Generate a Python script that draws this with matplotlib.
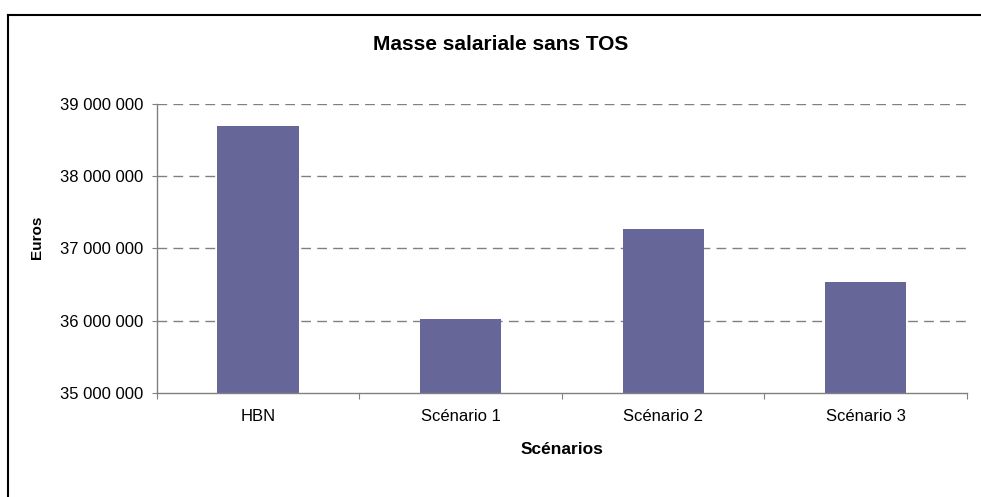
import matplotlib
matplotlib.use("Agg")
import matplotlib.pyplot as plt
from matplotlib.lines import Line2D
from matplotlib.ticker import FuncFormatter, FixedLocator
import numpy as np

plt.rcParams['font.family'] = ['Liberation Sans', 'DejaVu Sans']

# Masse salariale par scénario (euros)
scenarios = ['HBN', 'Scénario 1', 'Scénario 2', 'Scénario 3']
masse = [38690000, 36020000, 37270000, 36540000]
y_ticks = [35000000, 36000000, 37000000, 38000000, 39000000]

W, H = 981, 497
fig = plt.figure(figsize=(W / 100, H / 100), dpi=100, facecolor='white')

# cadre du graphique (coupé à droite et en bas)
fig.add_artist(Line2D([8 / W, 8 / W], [0, 1 - 15 / H], color='black', lw=1.5,
                      transform=fig.transFigure))
fig.add_artist(Line2D([8 / W, 1], [1 - 15 / H, 1 - 15 / H], color='black', lw=1.5,
                      transform=fig.transFigure))

left, right = 156.7, 967.0
top, bottom = 104.0, 392.7
ax = fig.add_axes([left / W, 1 - bottom / H, (right - left) / W, (bottom - top) / H])

x = np.arange(len(scenarios))
ax.bar(x, masse, width=0.4, color='#666699', zorder=3)

ax.set_xlim(-0.5, len(scenarios) - 0.5)
ax.set_ylim(y_ticks[0], y_ticks[-1])

# grille pointillée
for v in y_ticks[1:]:
    ax.axhline(v, color='#808080', lw=1.0, dashes=(7, 4.5), zorder=1)

ax.set_yticks(y_ticks)
ax.yaxis.set_major_formatter(FuncFormatter(lambda v, p: '{:,.0f}'.format(v).replace(',', ' ')))
ax.tick_params(axis='y', direction='out', length=3.5, width=0.8, color='#808080',
               pad=6, labelsize=12)

ax.xaxis.set_major_locator(FixedLocator(np.arange(-0.5, len(scenarios), 1.0)))
ax.xaxis.set_minor_locator(FixedLocator(x))
ax.set_xticklabels([], minor=False)
ax.set_xticklabels(scenarios, minor=True)
ax.tick_params(axis='x', which='major', direction='out', length=4, width=0.8, color='#808080')
ax.tick_params(axis='x', which='minor', length=0, pad=12, labelsize=12)

for s in ['top', 'right']:
    ax.spines[s].set_visible(False)
for s in ['left', 'bottom']:
    ax.spines[s].set_color('#808080')
    ax.spines[s].set_linewidth(1.0)
    ax.spines[s].set_zorder(4)

ax.set_ylabel('Euros', fontsize=11, fontweight='bold')
ax.yaxis.set_label_coords((37.5 - left) / (right - left), (bottom - 237) / (bottom - top))
ax.set_xlabel('Scénarios', fontsize=12.5, fontweight='bold')
ax.xaxis.set_label_coords(0.5, (bottom - 449) / (bottom - top))
ax.xaxis.label.set_va('center')
ax.yaxis.label.set_va('center')

fig.text(501 / W, 1 - 44 / H, 'Masse salariale sans TOS', ha='center', va='center',
         fontsize=15, fontweight='bold')

fig.savefig('out.png', dpi=100)
